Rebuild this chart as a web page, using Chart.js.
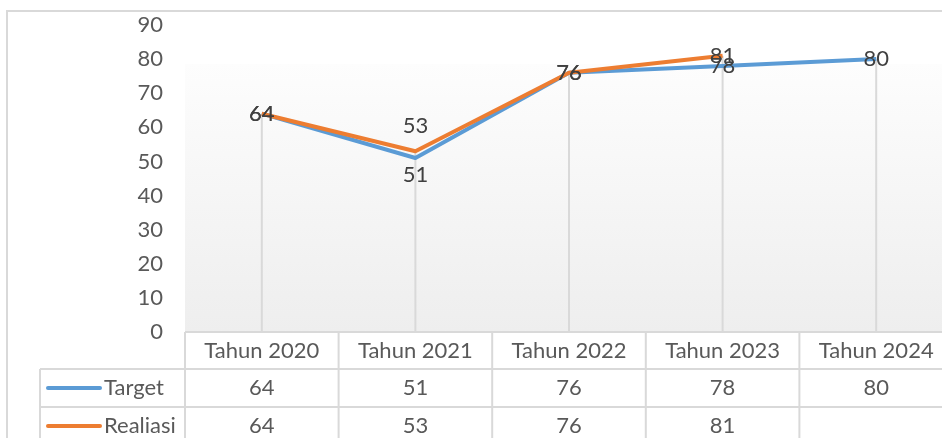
<!DOCTYPE html>
<html><head><meta charset="utf-8">
<script src="https://cdn.jsdelivr.net/npm/chart.js@4"></script>
<style>html,body{margin:0;padding:0;background:#fff;overflow:hidden;width:942px;height:438px}canvas{display:block}</style>
</head><body>
<canvas id="c" width="960" height="438" style="width:960px;height:438px"></canvas>
<script>
const categories = ['Tahun 2020', 'Tahun 2021', 'Tahun 2022', 'Tahun 2023', 'Tahun 2024'];
const seriesNames = ['Target', 'Realiasi'];
const targetValues = [64, 51, 76, 78, 80];
const realisasiValues = [64, 53, 76, 81, null];
const yMin = 0, yMax = 90, yStep = 10;
const targetLabelPos = ['center', 'below', 'center', 'center', 'center'];
const realisasiLabelPos = ['center', 'above', 'center', 'center', 'center'];

const FONT = 'Lato, "Open Sans", sans-serif';
const GRID = '#d9d9d9';
const TEXT = '#595959';
const COLORS = ['#5b9bd5', '#ed7d31'];

const excelPlugin = {
  id: 'excel',
  beforeDraw(chart) {
    const { ctx, chartArea: a } = chart;
    ctx.save();
    ctx.strokeStyle = GRID; ctx.lineWidth = 2;
    ctx.strokeRect(7, 11, 2000, 2000);
    const top = 64;
    const g = ctx.createLinearGradient(0, top, 0, a.bottom);
    g.addColorStop(0, '#fdfdfd'); g.addColorStop(1, '#eeeeee');
    ctx.fillStyle = g;
    ctx.fillRect(a.left, top, a.right - a.left, a.bottom - top);
    ctx.restore();
  },
  beforeDatasetsDraw(chart) {
    const { ctx, chartArea: a } = chart;
    ctx.save();
    ctx.strokeStyle = GRID; ctx.lineWidth = 2;
    categories.forEach((c, i) => {
      let minY = Infinity, px = null;
      chart.data.datasets.forEach((ds, d) => {
        if (ds.data[i] == null) return;
        const p = chart.getDatasetMeta(d).data[i];
        px = p.x; minY = Math.min(minY, p.y);
      });
      if (px == null) return;
      ctx.beginPath(); ctx.moveTo(px, minY); ctx.lineTo(px, a.bottom); ctx.stroke();
    });
    ctx.restore();
  },
  afterDatasetsDraw(chart) {
    const { ctx, chartArea: a, scales: { x } } = chart;
    const W = chart.width, H = chart.height;
    ctx.save();
    ctx.font = '22px ' + FONT;
    ctx.fillStyle = '#404040';
    ctx.textAlign = 'center'; ctx.textBaseline = 'middle';
    const posArr = [targetLabelPos, realisasiLabelPos];
    chart.data.datasets.forEach((ds, d) => {
      const meta = chart.getDatasetMeta(d);
      ds.data.forEach((v, i) => {
        if (v == null) return;
        const p = meta.data[i];
        let yy = p.y;
        if (posArr[d][i] === 'above') yy -= 25;
        if (posArr[d][i] === 'below') yy += 17;
        ctx.fillText(String(v), p.x, yy);
      });
    });
    const step = x.getPixelForValue(1) - x.getPixelForValue(0);
    const r0 = a.bottom, r1 = r0 + 37, r2 = r0 + 75, r3 = r0 + 113;
    const leftCol = 40;
    ctx.strokeStyle = GRID; ctx.lineWidth = 2;
    ctx.beginPath();
    ctx.moveTo(a.left, r0); ctx.lineTo(W, r0);
    ctx.moveTo(leftCol, r1); ctx.lineTo(W, r1);
    ctx.moveTo(leftCol, r2); ctx.lineTo(W, r2);
    ctx.moveTo(leftCol, r1); ctx.lineTo(leftCol, H);
    for (let i = 0; i <= categories.length; i++) {
      const bx = x.getPixelForValue(0) - step / 2 + i * step;
      ctx.moveTo(bx, r0); ctx.lineTo(bx, H);
    }
    ctx.stroke();
    ctx.font = '22px ' + FONT;
    ctx.fillStyle = TEXT;
    ctx.textAlign = 'center'; ctx.textBaseline = 'middle';
    const rowsVals = [targetValues, realisasiValues];
    const rowMid = [(r1 + r2) / 2, (r2 + r3) / 2];
    categories.forEach((c, i) => {
      const cx = x.getPixelForValue(i);
      ctx.fillText(c, cx, (r0 + r1) / 2);
      rowsVals.forEach((vals, d) => {
        if (vals[i] != null) ctx.fillText(String(vals[i]), cx, rowMid[d]);
      });
    });
    seriesNames.forEach((n, d) => {
      ctx.strokeStyle = COLORS[d]; ctx.lineWidth = 4; ctx.lineCap = 'round';
      ctx.beginPath(); ctx.moveTo(48, rowMid[d]); ctx.lineTo(100, rowMid[d]); ctx.stroke();
      ctx.textAlign = 'left';
      ctx.fillText(n, 104, rowMid[d]);
    });
    ctx.restore();
  }
};

new Chart(document.getElementById('c'), {
  type: 'line',
  data: {
    labels: categories,
    datasets: [
      { label: seriesNames[0], data: targetValues, borderColor: COLORS[0], backgroundColor: COLORS[0], borderWidth: 4, pointRadius: 0, tension: 0, order: 1, borderCapStyle: 'butt', borderJoinStyle: 'round' },
      { label: seriesNames[1], data: realisasiValues, borderColor: COLORS[1], backgroundColor: COLORS[1], borderWidth: 4, pointRadius: 0, tension: 0, order: 0, borderCapStyle: 'butt', borderJoinStyle: 'round' }
    ]
  },
  options: {
    responsive: false, animation: false, devicePixelRatio: 1,
    layout: { padding: { left: 0, top: 25, right: 7, bottom: 106 } },
    plugins: { legend: { display: false }, tooltip: { enabled: false }, title: { display: false } },
    scales: {
      x: { offset: true, grid: { display: false, drawTicks: false }, border: { display: false }, ticks: { display: false },
        afterFit(s) { s.height = 0; s.paddingLeft = 0; s.paddingRight = 0; } },
      y: {
        min: yMin, max: yMax,
        ticks: { stepSize: yStep, padding: 22, color: TEXT, font: { family: FONT, size: 22 } },
        grid: { display: false, drawTicks: false }, border: { display: false },
        afterFit(s) { s.width = 185; s.paddingTop = 0; s.paddingBottom = 0; }
      }
    }
  },
  plugins: [excelPlugin]
});
</script>
</body></html>
